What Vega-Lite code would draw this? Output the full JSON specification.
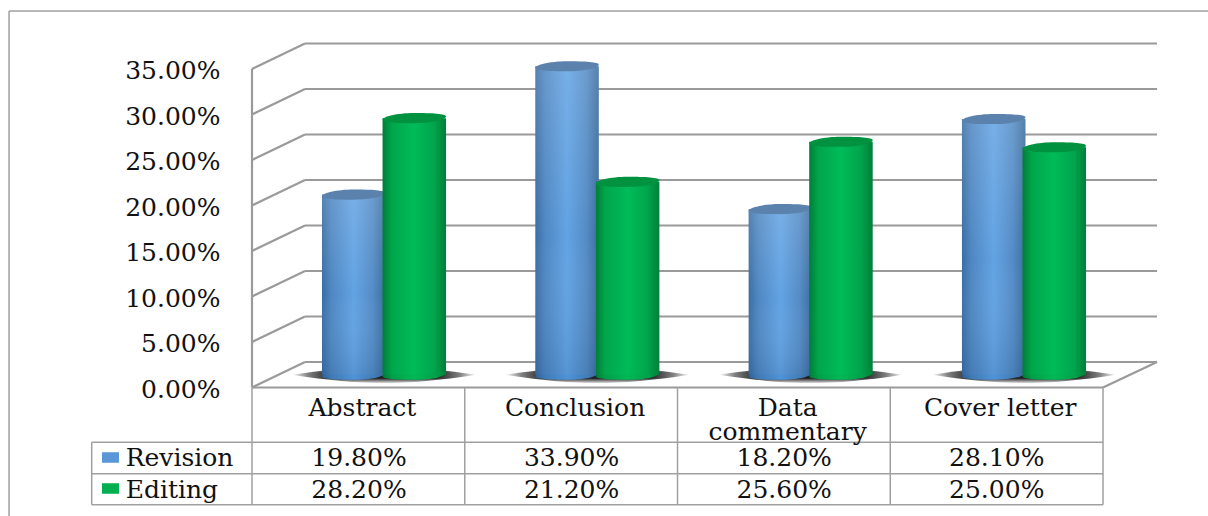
{
"$schema":"https://vega.github.io/schema/vega-lite/v6.json",
"width":1208,"height":516,"autosize":"none","padding":0,"background":"white",
"config":{"view":{"stroke":null},"text":{"font":"DejaVu Serif","fontSize":25,"color":"#111"}},
"datasets":{
"rows":[
{"category":"Abstract","series":"Revision","value":0.198},
{"category":"Conclusion","series":"Revision","value":0.339},
{"category":"Data commentary","series":"Revision","value":0.182},
{"category":"Cover letter","series":"Revision","value":0.281},
{"category":"Abstract","series":"Editing","value":0.282},
{"category":"Conclusion","series":"Editing","value":0.212},
{"category":"Data commentary","series":"Editing","value":0.256},
{"category":"Cover letter","series":"Editing","value":0.25}],
"cats":[
{"category":"Abstract","label":"Abstract"},
{"category":"Conclusion","label":"Conclusion"},
{"category":"Data commentary","label":"Data\ncommentary"},
{"category":"Cover letter","label":"Cover letter"}],
"series":[{"series":"Revision"},{"series":"Editing"}],
"segs":[
{"k":"grid","x":0,"y":0,"x2":0.2491,"y2":0.028},{"k":"grid","x":0.2491,"y":0.028,"x2":4.254,"y2":0.028},
{"k":"grid","x":0,"y":0.05,"x2":0.2491,"y2":0.078},{"k":"grid","x":0.2491,"y":0.078,"x2":4.254,"y2":0.078},
{"k":"grid","x":0,"y":0.10,"x2":0.2491,"y2":0.128},{"k":"grid","x":0.2491,"y":0.128,"x2":4.254,"y2":0.128},
{"k":"grid","x":0,"y":0.15,"x2":0.2491,"y2":0.178},{"k":"grid","x":0.2491,"y":0.178,"x2":4.254,"y2":0.178},
{"k":"grid","x":0,"y":0.20,"x2":0.2491,"y2":0.228},{"k":"grid","x":0.2491,"y":0.228,"x2":4.254,"y2":0.228},
{"k":"grid","x":0,"y":0.25,"x2":0.2491,"y2":0.278},{"k":"grid","x":0.2491,"y":0.278,"x2":4.254,"y2":0.278},
{"k":"grid","x":0,"y":0.30,"x2":0.2491,"y2":0.328},{"k":"grid","x":0.2491,"y":0.328,"x2":4.254,"y2":0.328},
{"k":"grid","x":0,"y":0.35,"x2":0.2491,"y2":0.378},{"k":"grid","x":0.2491,"y":0.378,"x2":4.254,"y2":0.378},
{"k":"grid","x":0,"y":0,"x2":0,"y2":0.35},
{"k":"grid","x":0,"y":0,"x2":4,"y2":0},
{"k":"grid","x":4,"y":0,"x2":4.254,"y2":0.028},
{"k":"table","x":0,"y":0,"x2":0,"y2":-0.1288},
{"k":"table","x":1,"y":0,"x2":1,"y2":-0.1288},
{"k":"table","x":2,"y":0,"x2":2,"y2":-0.1288},
{"k":"table","x":3,"y":0,"x2":3,"y2":-0.1288},
{"k":"table","x":4,"y":0,"x2":4,"y2":-0.1288},
{"k":"table","x":-0.7535,"y":-0.0602,"x2":4,"y2":-0.0602},
{"k":"table","x":-0.7535,"y":-0.0947,"x2":4,"y2":-0.0947},
{"k":"table","x":-0.7535,"y":-0.1288,"x2":4,"y2":-0.1288},
{"k":"table","x":-0.7535,"y":-0.0602,"x2":-0.7535,"y2":-0.1288},
{"k":"table","x":-1.142,"y":0.4137,"x2":4.4935,"y2":0.4137},
{"k":"table","x":-1.142,"y":0.4137,"x2":-1.142,"y2":-0.1412}]
},
"resolve":{"scale":{"x":"independent","y":"independent"}},
"layer":[
{"data":{"name":"cats"},
 "mark":{"type":"point","filled":true,"opacity":1,"strokeWidth":0,"size":34225,
  "shape":"M-1,0C-.6,-.06,-.3,-.09,0,-.09C.3,-.09,.6,-.06,1,0C.6,.06,.3,.09,0,.09C-.3,.09,-.6,.06,-1,0Z",
  "fill":{"gradient":"radial","x1":0.5,"y1":0.5,"r1":0,"x2":0.5,"y2":0.5,"r2":0.5,"stops":[{"offset":0,"color":"#1c1c1c"},{"offset":0.6,"color":"#2c2c2c"},{"offset":0.82,"color":"#808080"},{"offset":1,"color":"#fff"}]}},
 "encoding":{
  "x":{"field":"category","type":"nominal","sort":null,"axis":null,"scale":{"type":"band","domain":["Abstract","Conclusion","Data commentary","Cover letter"],"range":[277.35,1130.65],"paddingInner":0.432,"paddingOuter":0.216}},
  "y":{"datum":0,"type":"quantitative","axis":null,"scale":{"domain":[0,0.35],"range":[374.75,56.25]}}
 }},
{"data":{"name":"cats"},
 "mark":{"type":"point","filled":true,"opacity":1,"strokeWidth":0,"size":34225,
  "shape":"M-1,-.092L1,-.092L1,.092L-1,.092Z",
  "fill":{"gradient":"linear","x1":0,"x2":0,"y1":0,"y2":1,"stops":[{"offset":0,"color":"rgba(255,255,255,0.9)"},{"offset":0.35,"color":"rgba(255,255,255,0)"},{"offset":0.7,"color":"rgba(255,255,255,0)"},{"offset":1,"color":"rgba(255,255,255,0.9)"}]}},
 "encoding":{
  "x":{"field":"category","type":"nominal","sort":null,"axis":null,"scale":{"type":"band","domain":["Abstract","Conclusion","Data commentary","Cover letter"],"range":[277.35,1130.65],"paddingInner":0.432,"paddingOuter":0.216}},
  "y":{"datum":0,"type":"quantitative","axis":null,"scale":{"domain":[0,0.35],"range":[374.75,56.25]}}
 }},
{"data":{"name":"segs"},
 "mark":{"type":"rule"},
 "encoding":{
  "x":{"field":"x","type":"quantitative","axis":null,"scale":{"domain":[-1.1845,4.4935],"nice":false,"zero":false}},
  "x2":{"field":"x2"},
  "y":{"field":"y","type":"quantitative","scale":{"domain":[-0.1412,0.4258],"nice":false,"zero":false},
   "axis":{"values":[0,0.05,0.1,0.15,0.2,0.25,0.3,0.35],"format":".2%","title":null,"domain":false,"ticks":false,"grid":false,"offset":-220,"labelPadding":0,"labelOffset":2,"labelFont":"DejaVu Serif","labelFontSize":25,"labelColor":"#111","labelAlign":"right","labelBaseline":"middle"}},
  "y2":{"field":"y2"},
  "stroke":{"field":"k","type":"nominal","legend":null,"scale":{"domain":["grid","table"],"range":["#9a9a9a","#a0a0a0"]}},
  "strokeWidth":{"field":"k","type":"nominal","legend":null,"scale":{"domain":["grid","table"],"range":[2.2,1.5]}}
 }},
{"data":{"name":"rows"},"transform":[{"filter":"datum.series==='Revision'"}],
 "mark":{"type":"point","filled":true,"opacity":1,"strokeWidth":0,"size":4032,
  "shape":"M-1,.05C-1,-.04,-.55,-.16,0,-.16C.55,-.16,1,-.14,1,-.05C1,.04,.55,.16,0,.16C-.55,.16,-1,.14,-1,.05Z",
  "fill":{"gradient":"linear","x1":0,"x2":1,"y1":0,"y2":0,"stops":[{"offset":0,"color":"#2f6296"},{"offset":0.15,"color":"#3f7ab5"},{"offset":0.5,"color":"#4f93d8"},{"offset":0.85,"color":"#3f7ab5"},{"offset":1,"color":"#2f6296"}]}},
 "encoding":{
  "x":{"field":"category","type":"nominal","sort":null,"axis":null,"scale":{"type":"band","domain":["Abstract","Conclusion","Data commentary","Cover letter"],"range":[277.35,1130.65],"paddingInner":0.432,"paddingOuter":0.216}},
  "xOffset":{"field":"series","type":"nominal","scale":{"domain":["Revision","Editing"]}},
  "y":{"datum":0,"type":"quantitative","axis":null,"scale":{"domain":[0,0.35],"range":[374.75,56.25]}}
 }},
{"data":{"name":"rows"},"transform":[{"filter":"datum.series==='Revision'"}],
 "mark":{"type":"bar","size":63.5,
  "fill":{"gradient":"linear","x1":0,"x2":1,"y1":0,"y2":0,"stops":[{"offset":0,"color":"#3a6ea3"},{"offset":0.15,"color":"#4f87c2"},{"offset":0.5,"color":"#62a3e4"},{"offset":0.8,"color":"#548cc6"},{"offset":1,"color":"#3d6c9c"}]}},
 "encoding":{
  "x":{"field":"category","type":"nominal","sort":null,"axis":null,"scale":{"type":"band","domain":["Abstract","Conclusion","Data commentary","Cover letter"],"range":[277.35,1130.65],"paddingInner":0.432,"paddingOuter":0.216}},
  "xOffset":{"field":"series","type":"nominal","scale":{"domain":["Revision","Editing"]}},
  "y":{"field":"value","type":"quantitative","stack":null,"axis":null,"scale":{"domain":[0,0.35],"range":[374.75,56.25]}}
 }},
{"data":{"name":"rows"},"transform":[{"filter":"datum.series==='Revision'"}],
 "mark":{"type":"bar","size":63.5,
  "fill":{"gradient":"linear","x1":0,"x2":0,"y1":0,"y2":1,"stops":[{"offset":0,"color":"rgba(255,255,255,0.14)"},{"offset":0.55,"color":"rgba(255,255,255,0)"},{"offset":1,"color":"rgba(0,40,90,0.12)"}]}},
 "encoding":{
  "x":{"field":"category","type":"nominal","sort":null,"axis":null,"scale":{"type":"band","domain":["Abstract","Conclusion","Data commentary","Cover letter"],"range":[277.35,1130.65],"paddingInner":0.432,"paddingOuter":0.216}},
  "xOffset":{"field":"series","type":"nominal","scale":{"domain":["Revision","Editing"]}},
  "y":{"field":"value","type":"quantitative","stack":null,"axis":null,"scale":{"domain":[0,0.35],"range":[374.75,56.25]}}
 }},
{"data":{"name":"rows"},"transform":[{"filter":"datum.series==='Revision'"}],
 "mark":{"type":"point","filled":true,"opacity":1,"strokeWidth":0,"size":4032,"color":"#5b82ad",
  "shape":"M-1,.05C-1,-.04,-.55,-.16,0,-.16C.55,-.16,1,-.14,1,-.05C1,.04,.55,.16,0,.16C-.55,.16,-1,.14,-1,.05Z"},
 "encoding":{
  "x":{"field":"category","type":"nominal","sort":null,"axis":null,"scale":{"type":"band","domain":["Abstract","Conclusion","Data commentary","Cover letter"],"range":[277.35,1130.65],"paddingInner":0.432,"paddingOuter":0.216}},
  "xOffset":{"field":"series","type":"nominal","scale":{"domain":["Revision","Editing"]}},
  "y":{"field":"value","type":"quantitative","axis":null,"scale":{"domain":[0,0.35],"range":[374.75,56.25]}}
 }},
{"data":{"name":"rows"},"transform":[{"filter":"datum.series==='Editing'"}],
 "mark":{"type":"point","filled":true,"opacity":1,"strokeWidth":0,"size":4032,
  "shape":"M-1,.05C-1,-.04,-.55,-.16,0,-.16C.55,-.16,1,-.14,1,-.05C1,.04,.55,.16,0,.16C-.55,.16,-1,.14,-1,.05Z",
  "fill":{"gradient":"linear","x1":0,"x2":1,"y1":0,"y2":0,"stops":[{"offset":0,"color":"#007a36"},{"offset":0.15,"color":"#00a049"},{"offset":0.5,"color":"#00b855"},{"offset":0.85,"color":"#00a049"},{"offset":1,"color":"#007a36"}]}},
 "encoding":{
  "x":{"field":"category","type":"nominal","sort":null,"axis":null,"scale":{"type":"band","domain":["Abstract","Conclusion","Data commentary","Cover letter"],"range":[277.35,1130.65],"paddingInner":0.432,"paddingOuter":0.216}},
  "xOffset":{"field":"series","type":"nominal","scale":{"domain":["Revision","Editing"]}},
  "y":{"datum":0,"type":"quantitative","axis":null,"scale":{"domain":[0,0.35],"range":[374.75,56.25]}}
 }},
{"data":{"name":"rows"},"transform":[{"filter":"datum.series==='Editing'"}],
 "mark":{"type":"bar","size":63.5,
  "fill":{"gradient":"linear","x1":0,"x2":1,"y1":0,"y2":0,"stops":[{"offset":0,"color":"#007e38"},{"offset":0.15,"color":"#00a64c"},{"offset":0.5,"color":"#00bb58"},{"offset":0.8,"color":"#00a64c"},{"offset":1,"color":"#007f3a"}]}},
 "encoding":{
  "x":{"field":"category","type":"nominal","sort":null,"axis":null,"scale":{"type":"band","domain":["Abstract","Conclusion","Data commentary","Cover letter"],"range":[277.35,1130.65],"paddingInner":0.432,"paddingOuter":0.216}},
  "xOffset":{"field":"series","type":"nominal","scale":{"domain":["Revision","Editing"]}},
  "y":{"field":"value","type":"quantitative","stack":null,"axis":null,"scale":{"domain":[0,0.35],"range":[374.75,56.25]}}
 }},
{"data":{"name":"rows"},"transform":[{"filter":"datum.series==='Editing'"}],
 "mark":{"type":"point","filled":true,"opacity":1,"strokeWidth":0,"size":4032,"color":"#00923f",
  "shape":"M-1,.05C-1,-.04,-.55,-.16,0,-.16C.55,-.16,1,-.14,1,-.05C1,.04,.55,.16,0,.16C-.55,.16,-1,.14,-1,.05Z"},
 "encoding":{
  "x":{"field":"category","type":"nominal","sort":null,"axis":null,"scale":{"type":"band","domain":["Abstract","Conclusion","Data commentary","Cover letter"],"range":[277.35,1130.65],"paddingInner":0.432,"paddingOuter":0.216}},
  "xOffset":{"field":"series","type":"nominal","scale":{"domain":["Revision","Editing"]}},
  "y":{"field":"value","type":"quantitative","axis":null,"scale":{"domain":[0,0.35],"range":[374.75,56.25]}}
 }},
{"data":{"name":"cats"},
 "mark":{"type":"text","align":"center","baseline":"alphabetic","lineBreak":"\n","lineHeight":24,"dx":3.5},
 "encoding":{
  "x":{"field":"category","type":"nominal","sort":null,"axis":null,"scale":{"type":"band","domain":["Abstract","Conclusion","Data commentary","Cover letter"],"range":[252.7,1103],"padding":0}},
  "y":{"datum":-0.0308,"type":"quantitative","axis":null,"scale":{"domain":[-0.1412,0.4258],"nice":false,"zero":false}},
  "text":{"field":"label","type":"nominal"}
 }},
{"data":{"name":"rows"},
 "mark":{"type":"text","align":"center","baseline":"middle"},
 "encoding":{
  "x":{"field":"category","type":"nominal","sort":null,"axis":null,"scale":{"type":"band","domain":["Abstract","Conclusion","Data commentary","Cover letter"],"range":[252.7,1103],"padding":0}},
  "y":{"field":"series","type":"ordinal","axis":null,"scale":{"type":"point","padding":0,"domain":["Revision","Editing"],"range":[458,490]}},
  "text":{"field":"value","type":"quantitative","format":".2%"}
 }},
{"data":{"name":"series"},
 "mark":{"type":"text","align":"left","baseline":"middle"},
 "encoding":{
  "x":{"datum":-0.5937,"type":"quantitative","axis":null,"scale":{"domain":[-1.1845,4.4935],"nice":false,"zero":false}},
  "y":{"field":"series","type":"ordinal","axis":null,"scale":{"type":"point","padding":0,"domain":["Revision","Editing"],"range":[458,490]}},
  "text":{"field":"series","type":"nominal"}
 }},
{"data":{"name":"series"},
 "mark":{"type":"point","filled":true,"opacity":1,"strokeWidth":0,"size":289,"shape":"M-1,-.62L1,-.62L1,.62L-1,.62Z"},
 "encoding":{
  "x":{"datum":-0.665,"type":"quantitative","axis":null,"scale":{"domain":[-1.1845,4.4935],"nice":false,"zero":false}},
  "y":{"field":"series","type":"ordinal","axis":null,"scale":{"type":"point","padding":0,"domain":["Revision","Editing"],"range":[457.5,488.5]}},
  "fill":{"field":"series","type":"nominal","legend":null,"scale":{"domain":["Revision","Editing"],"range":["#5a96d8","#00b050"]}}
 }}
]
}
